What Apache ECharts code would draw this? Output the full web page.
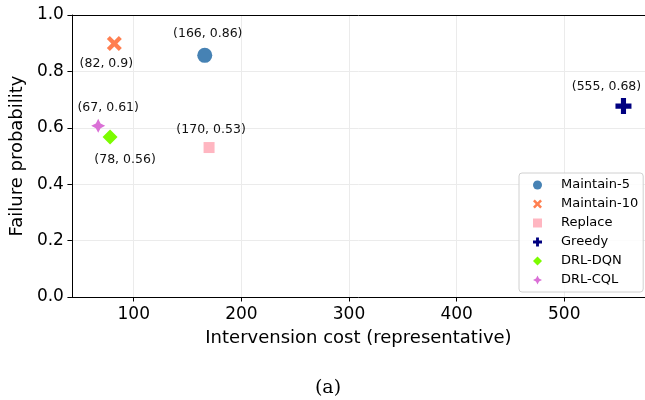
<!DOCTYPE html>
<html><head><meta charset="utf-8">
<script src="https://cdn.jsdelivr.net/npm/echarts@6/dist/echarts.min.js"></script>
<style>html,body{margin:0;padding:0;background:#fff}#c{width:645px;height:400px}</style>
</head><body><div id="c"></div>
<script>
const names = ['Maintain-5','Maintain-10','Replace','Greedy','DRL-DQN','DRL-CQL'];
const costs = [166, 82, 170, 555, 78, 67];
const fails = [0.857, 0.899, 0.53, 0.677, 0.567, 0.607];
const labels = ['(166, 0.86)','(82, 0.9)','(170, 0.53)','(555, 0.68)','(78, 0.56)','(67, 0.61)'];
const colors = ['#4682B4','#FF7F50','#FFB6C1','#000080','#7CFC00','#DA70D6'];
const xTicks = [100, 200, 300, 400, 500];
const yTicks = [0, 0.2, 0.4, 0.6, 0.8, 1.0];

const X_PATH = 'path://M-3,-5 L0,-2 L3,-5 L5,-3 L2,0 L5,3 L3,5 L0,2 L-3,5 L-5,3 L-2,0 L-5,-3 Z';
const PLUS_PATH = 'path://M-1.6,-5 L1.6,-5 L1.6,-1.6 L5,-1.6 L5,1.6 L1.6,1.6 L1.6,5 L-1.6,5 L-1.6,1.6 L-5,1.6 L-5,-1.6 L-1.6,-1.6 Z';
const STAR_PATH = 'path://M0,-5 L1.7,-1.7 L5,0 L1.7,1.7 L0,5 L-1.7,1.7 L-5,0 L-1.7,-1.7 Z';
const symbols = ['circle', X_PATH, 'rect', PLUS_PATH, 'diamond', STAR_PATH];
const sizes = [15, 15, 11, 16, 15, 14];
const labelOffsets = [[3,-22],[-8,20],[2,-18],[-17,-19],[15,23],[10,-18]];

const FONT = 'DejaVu Sans';
const series = names.map((n,i)=>({
  name: n, type: 'scatter',
  symbol: symbols[i], symbolSize: sizes[i],
  itemStyle: {color: colors[i], opacity: 1},
  data: [[costs[i], fails[i]]],
  label: {show: true, position: 'inside', offset: labelOffsets[i],
    formatter: labels[i], color: '#111', fontFamily: FONT, fontSize: 12.5},
  emphasis: {disabled: true}
}));

const chart = echarts.init(document.getElementById('c'), null, {renderer: 'canvas'});
chart.setOption({
  animation: false,
  grid: {left: 70, right: 0, top: 15, bottom: 103, show: false},
  xAxis: [{
    type: 'value', min: 42.6, max: 575, interval: 100,
    name: 'Intervension cost (representative)', nameLocation: 'middle', nameGap: 32,
    nameTextStyle: {fontFamily: FONT, fontSize: 18, color: '#000'},
    axisLine: {show: true, lineStyle: {color: '#000', width: 1}},
    axisTick: {show: true, length: 4.5, lineStyle: {color: '#000'}, customValues: xTicks},
    axisLabel: {fontFamily: FONT, fontSize: 17, color: '#000', margin: 9, customValues: xTicks},
    splitLine: {show: true, lineStyle: {color: '#ebebeb', width: 1}}
  }, {
    type: 'value', position: 'top', min: 42.6, max: 575,
    axisLine: {show: true, onZero: false, lineStyle: {color: '#000', width: 1}},
    axisTick: {show: false}, axisLabel: {show: false}, splitLine: {show: false}
  }],
  yAxis: {
    type: 'value', min: 0, max: 1.0, interval: 0.2,
    name: 'Failure probability', nameLocation: 'middle', nameGap: 43,
    nameTextStyle: {fontFamily: FONT, fontSize: 18, color: '#000'},
    axisLine: {show: true, lineStyle: {color: '#000', width: 1}},
    axisTick: {show: true, length: 4.5, lineStyle: {color: '#000'}},
    axisLabel: {fontFamily: FONT, fontSize: 17, color: '#000', margin: 8, formatter: v => v.toFixed(1)},
    splitLine: {show: true, lineStyle: {color: '#ebebeb', width: 1}}
  },
  legend: {
    orient: 'vertical', left: 519, top: 173,
    padding: [5, 5, 5, 14], itemGap: 5, itemWidth: 9, itemHeight: 9,
    borderColor: '#d0d0d0', borderWidth: 1, borderRadius: 3,
    backgroundColor: 'rgba(255,255,255,0.85)',
    textStyle: {fontFamily: FONT, fontSize: 13, color: '#000', padding: [0,0,0,14], lineHeight: 14},
    data: names.map((n,i)=>({name: n, icon: symbols[i], itemStyle: {color: colors[i]}}))
  },
  graphic: [{type: 'text', x: 328, y: 388, style: {text: '(a)', font: '19px "DejaVu Serif"', fill: '#000', align: 'center', verticalAlign: 'middle'}}],
  series: series
});
</script></body></html>
